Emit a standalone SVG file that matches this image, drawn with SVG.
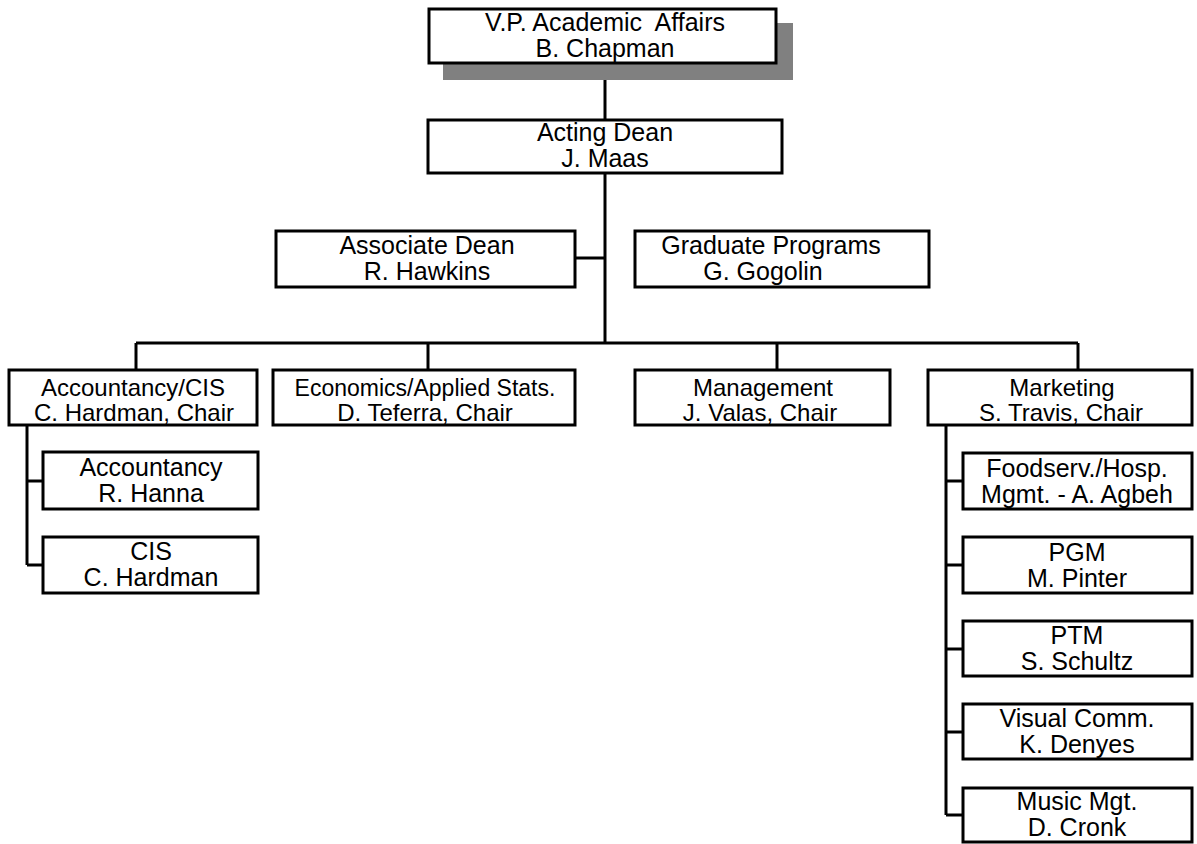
<svg xmlns="http://www.w3.org/2000/svg" width="1197" height="844" viewBox="0 0 1197 844">
<style>
rect.box{fill:#fff;stroke:#000;stroke-width:3}
rect.shadow{fill:#808080;stroke:none}
text{font-family:"Liberation Sans",Arial,sans-serif;font-size:25px;fill:#000;text-anchor:middle}
text.sm{font-size:24px}
.conn line{stroke:#000;stroke-width:3;fill:none}
</style>
<rect width="1197" height="844" fill="#fff"/>
<g class="conn" id="connectors">
<line x1="605" y1="80" x2="605" y2="120"/>
<line x1="605" y1="173" x2="605" y2="343"/>
<line x1="575" y1="258" x2="605" y2="258"/>
<line x1="136" y1="343" x2="1078" y2="343"/>
<line x1="136" y1="343" x2="136" y2="370"/>
<line x1="428" y1="343" x2="428" y2="370"/>
<line x1="777" y1="343" x2="777" y2="370"/>
<line x1="1078" y1="343" x2="1078" y2="370"/>
<line x1="27" y1="425" x2="27" y2="565"/>
<line x1="27" y1="481" x2="43" y2="481"/>
<line x1="27" y1="565" x2="43" y2="565"/>
<line x1="946" y1="425" x2="946" y2="815"/>
<line x1="946" y1="481" x2="963" y2="481"/>
<line x1="946" y1="565" x2="963" y2="565"/>
<line x1="946" y1="649" x2="963" y2="649"/>
<line x1="946" y1="732" x2="963" y2="732"/>
<line x1="946" y1="815" x2="963" y2="815"/>
</g>
<g id="vp">
<rect class="shadow" x="443" y="23" width="350" height="57"/>
<rect class="box" x="429" y="9" width="347" height="54"/>
<text x="605" y="31">V.P. Academic&#160; Affairs</text>
<text x="605" y="57">B. Chapman</text>
</g>
<g id="dean">
<rect class="box" x="428" y="120" width="354" height="53"/>
<text x="605" y="141">Acting Dean</text>
<text x="605" y="167">J. Maas</text>
</g>
<g id="assoc">
<rect class="box" x="276" y="231" width="299" height="56"/>
<text x="427" y="254">Associate Dean</text>
<text x="427" y="280">R. Hawkins</text>
</g>
<g id="grad">
<rect class="box" x="635" y="231" width="294" height="56"/>
<text x="771" y="254">Graduate Programs</text>
<text x="763" y="280">G. Gogolin</text>
</g>
<g id="acc">
<rect class="box" x="9" y="370" width="248" height="55"/>
<text class="sm" x="133" y="396">Accountancy/CIS</text>
<text class="sm" x="134" y="421">C. Hardman, Chair</text>
</g>
<g id="econ">
<rect class="box" x="273" y="370" width="302" height="55"/>
<text class="sm" x="425" y="396" style="font-size:23px">Economics/Applied Stats.</text>
<text class="sm" x="425" y="421">D. Teferra, Chair</text>
</g>
<g id="mgmt">
<rect class="box" x="635" y="370" width="255" height="55"/>
<text class="sm" x="763" y="396">Management</text>
<text class="sm" x="760" y="421">J. Valas, Chair</text>
</g>
<g id="mkt">
<rect class="box" x="928" y="370" width="264" height="55"/>
<text class="sm" x="1062" y="396">Marketing</text>
<text class="sm" x="1061" y="421">S. Travis, Chair</text>
</g>
<g id="accountancy">
<rect class="box" x="43" y="452" width="215" height="57"/>
<text x="151" y="476">Accountancy</text>
<text x="151" y="502">R. Hanna</text>
</g>
<g id="cis">
<rect class="box" x="43" y="537" width="215" height="56"/>
<text x="151" y="560">CIS</text>
<text x="151" y="586">C. Hardman</text>
</g>
<g id="food">
<rect class="box" x="963" y="453" width="229" height="56"/>
<text x="1077" y="477">Foodserv./Hosp.</text>
<text x="1077" y="503">Mgmt. - A. Agbeh</text>
</g>
<g id="pgm">
<rect class="box" x="963" y="537" width="229" height="56"/>
<text x="1077" y="561">PGM</text>
<text x="1077" y="587">M. Pinter</text>
</g>
<g id="ptm">
<rect class="box" x="963" y="621" width="229" height="55"/>
<text x="1077" y="644">PTM</text>
<text x="1077" y="670">S. Schultz</text>
</g>
<g id="visual">
<rect class="box" x="963" y="704" width="229" height="55"/>
<text x="1077" y="727">Visual Comm.</text>
<text x="1077" y="753">K. Denyes</text>
</g>
<g id="music">
<rect class="box" x="963" y="788" width="229" height="54"/>
<text x="1077" y="810">Music Mgt.</text>
<text x="1077" y="836">D. Cronk</text>
</g>
</svg>
